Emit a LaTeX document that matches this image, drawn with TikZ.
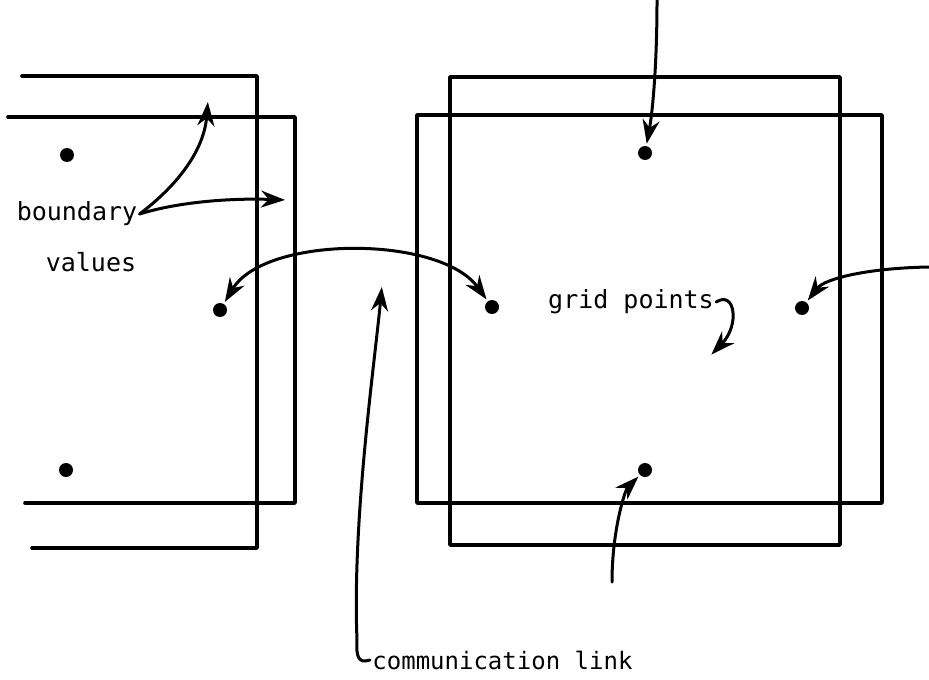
\documentclass[tikz,border=0pt]{standalone}
\usepackage{fontspec}
\setmonofont{DejaVu Sans Mono}
\usepackage{tikz}
\usetikzlibrary{arrows.meta,positioning}

\begin{document}
\begin{tikzpicture}[x=0.5pt, y=-0.5pt, font=\ttfamily\fontsize{12.5}{14}\selectfont, line cap=round, line join=round, frame/.style={line width=1.8pt}, dot/.style={circle, fill, inner sep=0pt, minimum size=7pt}, lbl/.style={inner sep=1pt}, arr/.style={-{Stealth[length=12pt, width=8.5pt]}, line width=1.5pt, shorten >=1pt}, arrs/.style={{Stealth[length=12pt, width=8.5pt]}-{Stealth[length=12pt, width=8.5pt]}, line width=1.5pt, shorten >=1pt, shorten <=1pt}]
\useasboundingbox (0,0) rectangle (929,679);
% left processor (open on the left)
\draw[frame] (22,76) -- (257,76) -- (257,548) -- (32,548);
\draw[frame] (8,117) -- (295,117) -- (295,503) -- (25,503);
% right processor
\draw[frame] (450,77) rectangle (840,545);
\draw[frame] (417,115) rectangle (882,503);
% grid points
\node[dot] (lup) at (67,155) {};
\node[dot] (llow) at (66,470) {};
\node[dot] (ledge) at (220,310) {};
\node[dot] (rwest) at (492,307) {};
\node[dot] (reast) at (802,308) {};
\node[dot] (rnorth) at (645,153) {};
\node[dot] (rsouth) at (645,470) {};
% labels
\node[lbl] (bnd) at (77,214) {boundary};
\node[lbl] (val) at (91,262) {values};
\node[lbl] (gp) at (631,302) {grid points};
\node[lbl, anchor=west, font=\ttfamily\fontsize{12}{14}\selectfont] (cl) at (370,660) {communication link};
% free ends
\coordinate (bvtop) at (208,100);
\coordinate (bvright) at (287,200);
\coordinate (gptip) at (710,356);
\coordinate (cltip) at (382,285);
\coordinate (nin) at (657,0);
\coordinate (sin) at (612,582);
\coordinate (ein) at (929,267);
% connectors
\draw[arr] (bnd.east) .. controls (178,185) and (204,150) .. (bvtop);
\draw[arr] (bnd.east) .. controls (178,202) and (230,198) .. (bvright);
\draw[arrs] (ledge) .. controls (265,235) and (440,235) .. (rwest);
\draw[arr] (nin) .. controls (657,70) and (652,115) .. (rnorth);
\draw[arr] (sin) .. controls (612,530) and (625,490) .. (rsouth);
\draw[arr] (ein) .. controls (870,268) and (825,278) .. (reast);
\draw[arr] (gp.east) .. controls (735,290) and (740,325) .. (gptip);
\draw[arr] (cl.west) .. controls (358,664) and (356,656) .. (357,640) .. controls (352,520) and (375,360) .. (cltip);
\end{tikzpicture}
\end{document}
